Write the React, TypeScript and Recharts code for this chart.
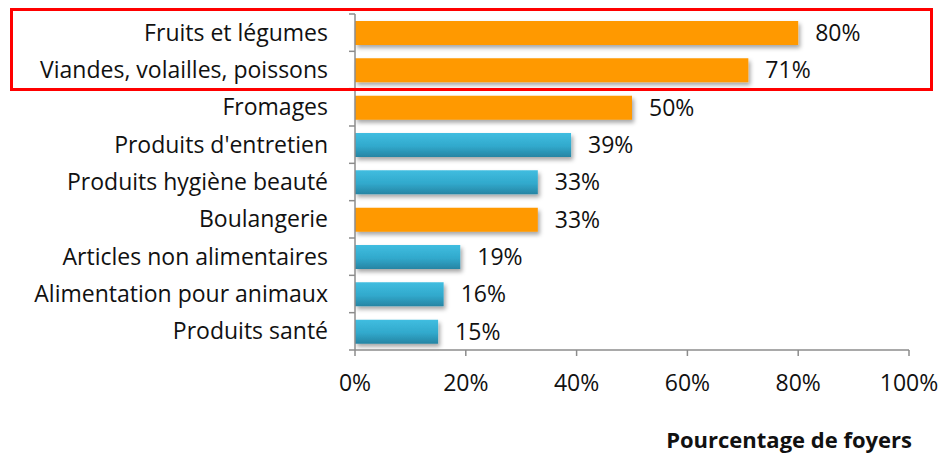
import { BarChart, Bar, XAxis, YAxis, Cell, LabelList } from 'recharts';

const categories = [
  'Fruits et légumes',
  'Viandes, volailles, poissons',
  'Fromages',
  "Produits d'entretien",
  'Produits hygiène beauté',
  'Boulangerie',
  'Articles non alimentaires',
  'Alimentation pour animaux',
  'Produits santé',
];
const values = [80, 71, 50, 39, 33, 33, 19, 16, 15];
const fresh = [true, true, true, false, false, true, false, false, false];
const xTicks = [0, 20, 40, 60, 80, 100];

const data = categories.map((name, i) => ({ name, value: values[i], fresh: fresh[i] }));

const W = 942;
const H = 455;
const TOP = 14;
const PLOT_H = 336;
const AXIS_X = 355;
const FONT = '"Open Sans", sans-serif';
const FS = 23;
const INK = '#111';
const band = PLOT_H / categories.length;

const YTick = (props: any) => {
  const { y, payload, index } = props;
  return (
    <g>
      <line x1={AXIS_X - 6} x2={AXIS_X} y1={y - band / 2} y2={y - band / 2} stroke="#8c8c8c" strokeWidth={1.5} />
      {index === categories.length - 1 && (
        <line x1={AXIS_X - 6} x2={AXIS_X} y1={y + band / 2} y2={y + band / 2} stroke="#8c8c8c" strokeWidth={1.5} />
      )}
      <text x={328} y={y} dy="0.35em" textAnchor="end" fill={INK} fontSize={FS} fontFamily={FONT}>
        {payload.value}
      </text>
    </g>
  );
};

export default function App() {
  return (
    <div style={{ position: 'fixed', left: 0, top: 0, width: W, height: H, background: '#fff' }}>
      <BarChart
        width={W}
        height={H}
        data={data}
        layout="vertical"
        margin={{ top: TOP, right: 33, left: 0, bottom: 5 }}
        barSize={24}
      >
        <defs>
          <linearGradient id="blueGrad" x1="0" y1="0" x2="0" y2="1">
            <stop offset="0%" stopColor="#40bde0" />
            <stop offset="55%" stopColor="#31a9cc" />
            <stop offset="100%" stopColor="#2784a3" />
          </linearGradient>
          <filter id="shadow" x="-5%" y="-20%" width="115%" height="160%">
            <feDropShadow dx="2" dy="3" stdDeviation="2" floodColor="#000" floodOpacity="0.35" />
          </filter>
        </defs>
        <XAxis
          type="number"
          domain={[0, 100]}
          ticks={xTicks}
          tickFormatter={(v) => `${v}%`}
          height={100}
          tickSize={6}
          tickMargin={19}
          axisLine={{ stroke: '#8c8c8c', strokeWidth: 1.5 }}
          tickLine={{ stroke: '#8c8c8c', strokeWidth: 1.5 }}
          tick={{ fill: INK, fontSize: FS, fontFamily: FONT }}
        />
        <YAxis
          type="category"
          dataKey="name"
          width={AXIS_X}
          axisLine={{ stroke: '#8c8c8c', strokeWidth: 1.5 }}
          tickLine={false}
          interval={0}
          tick={<YTick />}
        />
        <Bar dataKey="value" isAnimationActive={false} filter="url(#shadow)">
          {data.map((d, i) => (
            <Cell key={i} fill={d.fresh ? '#ff9900' : 'url(#blueGrad)'} />
          ))}
          <LabelList
            dataKey="value"
            position="right"
            offset={17}
            formatter={(v: any) => `${v}%`}
            style={{ fill: INK, fontSize: FS, fontFamily: FONT }}
          />
        </Bar>
      </BarChart>
      <div
        style={{
          position: 'absolute',
          right: W - 912,
          top: 424,
          fontFamily: FONT,
          fontWeight: 'bold',
          fontSize: 22,
          color: INK,
          whiteSpace: 'nowrap',
        }}
      >
        Pourcentage de foyers
      </div>
      <div
        style={{
          position: 'absolute',
          left: 10,
          top: 8,
          width: 923 - 6,
          height: 83 - 6,
          border: '3px solid #ff0000',
        }}
      />
    </div>
  );
}
